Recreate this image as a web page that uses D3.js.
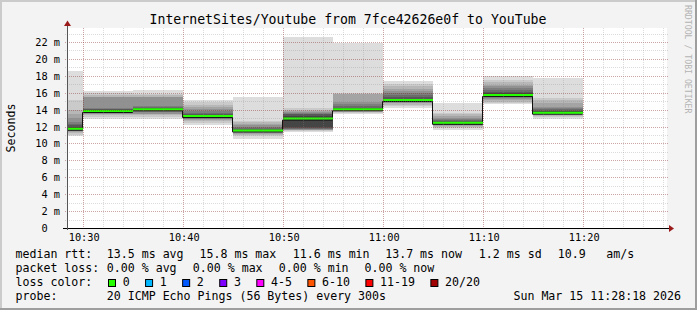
<!DOCTYPE html>
<html>
<head>
<meta charset="utf-8">
<script src="https://d3js.org/d3.v7.min.js"></script>
<style>
    body { margin: 0; background: #f3f3f3; }
    svg { display: block; font-family: "DejaVu Sans Mono", monospace; }
    text { white-space: pre; fill: #000; }
</style>
</head>
<body>
<svg width="697" height="310"></svg>
<script>
    // ---- data ----
    const title = "InternetSites/Youtube from 7fce42626e0f to YouTube";
    const intervalStarts = ["10:25", "10:30", "10:35", "10:40", "10:45", "10:50", "10:55", "11:00", "11:05", "11:10", "11:15"];
    const medians = [11.8, 13.9, 14.1, 13.3, 11.6, 13.0, 14.1, 15.2, 12.5, 15.8, 13.7];
    // 20 sorted ping times (ms) per 5 minute interval
    const pings = [
        [10.9, 11.1, 11.3, 11.4, 11.5, 11.6, 11.7, 11.75, 11.8, 11.8, 11.9, 12.0, 12.2, 12.4, 12.6, 13.1, 13.6, 14.0, 15.2, 18.6],
        [13.0, 13.2, 13.4, 13.5, 13.6, 13.7, 13.75, 13.8, 13.85, 13.85, 14.0, 14.05, 14.1, 14.15, 14.2, 15.5, 15.6, 15.8, 16.0, 16.3],
        [13.0, 13.2, 13.4, 13.5, 13.6, 13.8, 13.9, 14.0, 14.0, 14.1, 14.1, 14.2, 14.3, 14.4, 14.5, 15.5, 15.6, 15.8, 15.9, 16.4],
        [12.3, 12.5, 12.7, 12.8, 12.9, 13.0, 13.1, 13.15, 13.2, 13.25, 13.3, 13.4, 13.5, 13.7, 13.9, 14.1, 14.4, 14.6, 14.95, 15.25],
        [10.6, 10.9, 11.1, 11.2, 11.3, 11.4, 11.45, 11.5, 11.55, 11.6, 11.6, 11.7, 11.8, 11.9, 12.0, 12.2, 12.4, 12.55, 12.7, 15.5],
        [11.4, 11.5, 11.6, 11.7, 11.7, 11.8, 11.8, 11.9, 12.0, 12.9, 13.1, 13.3, 13.5, 13.6, 13.7, 13.8, 13.9, 14.0, 14.2, 22.7],
        [13.6, 13.7, 13.8, 13.85, 13.9, 13.95, 14.0, 14.0, 14.05, 14.1, 14.1, 14.2, 14.3, 14.5, 14.7, 15.0, 15.9, 15.95, 16.0, 22.0],
        [14.3, 14.5, 14.6, 14.8, 14.9, 15.0, 15.05, 15.1, 15.15, 15.2, 15.2, 15.3, 15.5, 15.8, 16.0, 16.3, 16.5, 16.9, 17.1, 17.4],
        [11.7, 11.85, 12.0, 12.1, 12.2, 12.3, 12.35, 12.4, 12.45, 12.5, 12.6, 12.65, 12.75, 12.85, 12.95, 13.1, 13.3, 13.5, 13.7, 14.9],
        [14.7, 14.9, 15.0, 15.2, 15.3, 15.4, 15.5, 15.6, 15.7, 15.75, 15.85, 16.0, 16.2, 16.4, 16.6, 16.8, 17.0, 17.3, 17.6, 18.0],
        [13.0, 13.2, 13.3, 13.4, 13.5, 13.55, 13.6, 13.65, 13.7, 13.7, 13.75, 13.85, 13.95, 14.1, 14.2, 14.4, 14.9, 15.2, 15.4, 17.85]
    ];
    const yTicks = [0, 2, 4, 6, 8, 10, 12, 14, 16, 18, 20, 22];
    const xTicks = ["10:30", "10:40", "10:50", "11:00", "11:10", "11:20"];
    const timeWindow = ["10:28:24", "11:28:24"];
    const lossLabels = ["0", "1", "2", "3", "4-5", "6-10", "11-19", "20/20"];
    const lossColors = ["#26ff00", "#00b8ff", "#0059ff", "#7e00ff", "#ff00ff", "#ff5500", "#ff0000", "#a00000"];
    const rttStats = ["median rtt:", "13.5 ms avg", "15.8 ms max", "11.6 ms min", "13.7 ms now", "1.2 ms sd", "10.9", "am/s"];
    const lossStats = ["packet loss:", "0.00 % avg", "0.00 % max", "0.00 % min", "0.00 % now"];
    const probeText = "20 ICMP Echo Pings (56 Bytes) every 300s";
    const stamp = "Sun Mar 15 11:28:18 2026";

    // ---- layout ----
    const W = 697, H = 310;
    const plot = {left: 67, right: 667, top: 28, bottom: 228};
    const svg = d3.select("svg");
    const parseHM = d3.timeParse("%H:%M");
    const parseHMS = d3.timeParse("%H:%M:%S");

    const x = d3.scaleTime()
        .domain(timeWindow.map(parseHMS))
        .range([plot.left, plot.right]);
    const y = d3.scaleLinear()
        .domain([0, 22])
        .range([plot.bottom + 0.5, 42.5]);
    const crisp = v => Math.round(v - 0.5) + 0.5;

    // frame
    svg.append("rect").attr("width", W).attr("height", H).attr("fill", "#f3f3f3");
    svg.append("rect").attr("width", W).attr("height", 2).attr("fill", "#cbcbcb");
    svg.append("rect").attr("width", 2).attr("height", H).attr("fill", "#cbcbcb");
    svg.append("rect").attr("x", W - 2).attr("width", 2).attr("height", H).attr("fill", "#9e9e9e");
    svg.append("rect").attr("y", H - 2).attr("width", W).attr("height", 2).attr("fill", "#9e9e9e");

    // canvas
    svg.append("rect")
        .attr("x", plot.left).attr("y", plot.top)
        .attr("width", plot.right - plot.left).attr("height", plot.bottom - plot.top)
        .attr("fill", "#fff");

    svg.append("clipPath").attr("id", "clip")
        .append("rect")
        .attr("x", plot.left).attr("y", plot.top)
        .attr("width", plot.right - plot.left).attr("height", plot.bottom - plot.top);

    const data = intervalStarts.map((s, i) => {
        const t0 = parseHM(s);
        return {t0: t0, t1: d3.timeMinute.offset(t0, 5), median: medians[i], pings: pings[i]};
    });

    // smoke: band j spans ping j .. ping 21-j, darker towards the middle
    const half = 10;
    const smoke = svg.append("g").attr("clip-path", "url(#clip)").attr("shape-rendering", "crispEdges");
    for (let j = 1; j <= half; j++) {
        const g = Math.floor(190 / half * (half - j)) + 50;
        smoke.append("g")
            .selectAll("rect")
            .data(data)
            .join("rect")
            .attr("x", d => x(d.t0))
            .attr("width", d => x(d.t1) - x(d.t0))
            .attr("y", d => y(d.pings[20 - j]))
            .attr("height", d => y(d.pings[j - 1]) - y(d.pings[20 - j]))
            .attr("fill", d3.rgb(g, g, g));
    }

    // median: thin black step line plus loss coloured segments
    const stepPts = data.map(d => [d.t0, d.median]).concat([[data[data.length - 1].t1, data[data.length - 1].median]]);
    const med = svg.append("g").attr("clip-path", "url(#clip)");
    med.append("path")
        .attr("d", d3.line().x(d => x(d[0]) - 0.5).y(d => y(d[1]) + 1.5).curve(d3.curveStepAfter)(stepPts))
        .attr("fill", "none")
        .attr("stroke", "#111")
        .attr("stroke-width", 1);
    med.selectAll("line")
        .data(data)
        .join("line")
        .attr("x1", d => x(d.t0))
        .attr("x2", d => x(d.t1))
        .attr("y1", d => y(d.median))
        .attr("y2", d => y(d.median))
        .attr("stroke", lossColors[0])
        .attr("stroke-width", 2);

    // grid (drawn over the data like rrdtool does)
    const grid = svg.append("g").attr("stroke-dasharray", "1,1").attr("stroke-width", 1);
    d3.range(1, 24).forEach(v => {
        grid.append("line")
            .attr("x1", plot.left - 2).attr("x2", plot.right + 2)
            .attr("y1", crisp(y(v))).attr("y2", crisp(y(v)))
            .attr("stroke", v % 2 === 0 ? "rgba(130,30,30,0.4)" : "rgba(140,140,140,0.3)");
    });
    x.ticks(d3.timeMinute.every(2)).forEach(t => {
        const major = t.getMinutes() % 10 === 0;
        grid.append("line")
            .attr("x1", crisp(x(t) + 0.5)).attr("x2", crisp(x(t) + 0.5))
            .attr("y1", plot.top).attr("y2", plot.bottom + 2)
            .attr("stroke", major ? "rgba(130,30,30,0.4)" : "rgba(140,140,140,0.3)");
    });

    // axes
    svg.append("line")
        .attr("x1", plot.left - 4).attr("x2", plot.right + 3)
        .attr("y1", plot.bottom + 0.5).attr("y2", plot.bottom + 0.5)
        .attr("stroke", "#000");
    svg.append("line")
        .attr("x1", plot.left + 0.5).attr("x2", plot.left + 0.5)
        .attr("y1", plot.bottom + 2).attr("y2", 23)
        .attr("stroke", "#555");
    svg.append("path")
        .attr("d", `M${plot.left - 3},26 L${plot.left + 4},26 L${plot.left + 0.5},20.5 Z`)
        .attr("fill", "#9b1b1b");
    svg.append("path")
        .attr("d", `M${plot.right + 2},${plot.bottom - 3} L${plot.right + 2},${plot.bottom + 4} L${plot.right + 7},${plot.bottom + 0.5} Z`)
        .attr("fill", "#9b1b1b");

    // tick labels
    svg.append("g")
        .selectAll("text")
        .data(yTicks)
        .join("text")
        .attr("x", 60)
        .attr("y", d => y(d) + 3.5)
        .attr("text-anchor", "end")
        .style("font-size", "10.3px")
        .text(d => d === 0 ? "0  " : d + " m");
    svg.append("g")
        .selectAll("text")
        .data(xTicks)
        .join("text")
        .attr("x", d => x(parseHM(d)) + 1.2)
        .attr("y", 241)
        .attr("text-anchor", "middle")
        .style("font-size", "10.3px")
        .text(d => d);

    // title, unit, watermark
    svg.append("text")
        .attr("x", 348).attr("y", 24)
        .attr("text-anchor", "middle")
        .style("font-size", "13.2px")
        .text(title);
    svg.append("text")
        .attr("transform", "translate(15,128) rotate(-90)")
        .attr("text-anchor", "middle")
        .style("font-size", "11.6px")
        .text("Seconds");
    svg.append("text")
        .attr("transform", "translate(685,5) rotate(90)")
        .style("font-size", "8.2px")
        .style("fill", "#b4b4b4")
        .text("RRDTOOL / TOBI OETIKER");

    // legend
    const legend = svg.append("g").style("font-size", "11.6px");
    const rttX = [15.5, 106.8, 199.5, 292.8, 385.2, 478.8, 557.8, 606.2];
    rttStats.forEach((s, i) => legend.append("text").attr("x", rttX[i]).attr("y", 258).text(s));
    const lossX = [15.5, 106.8, 192.8, 278.8, 364.5];
    lossStats.forEach((s, i) => legend.append("text").attr("x", lossX[i]).attr("y", 272).text(s));

    legend.append("text").attr("x", 15.5).attr("y", 286).text("loss color:");
    let bx = 108;
    lossLabels.forEach((lab, i) => {
        legend.append("rect")
            .attr("x", bx + 0.5).attr("y", 279.5)
            .attr("width", 7).attr("height", 7)
            .attr("fill", lossColors[i])
            .attr("stroke", "#000");
        legend.append("text").attr("x", bx + 14.7).attr("y", 286).text(lab);
        bx += 30.1 + 6.98 * lab.length;
    });

    legend.append("text").attr("x", 15.5).attr("y", 300).text("probe:");
    legend.append("text").attr("x", 106.8).attr("y", 300).text(probeText);
    legend.append("text").attr("x", 681).attr("y", 300).attr("text-anchor", "end").text(stamp);
</script>
</body>
</html>
